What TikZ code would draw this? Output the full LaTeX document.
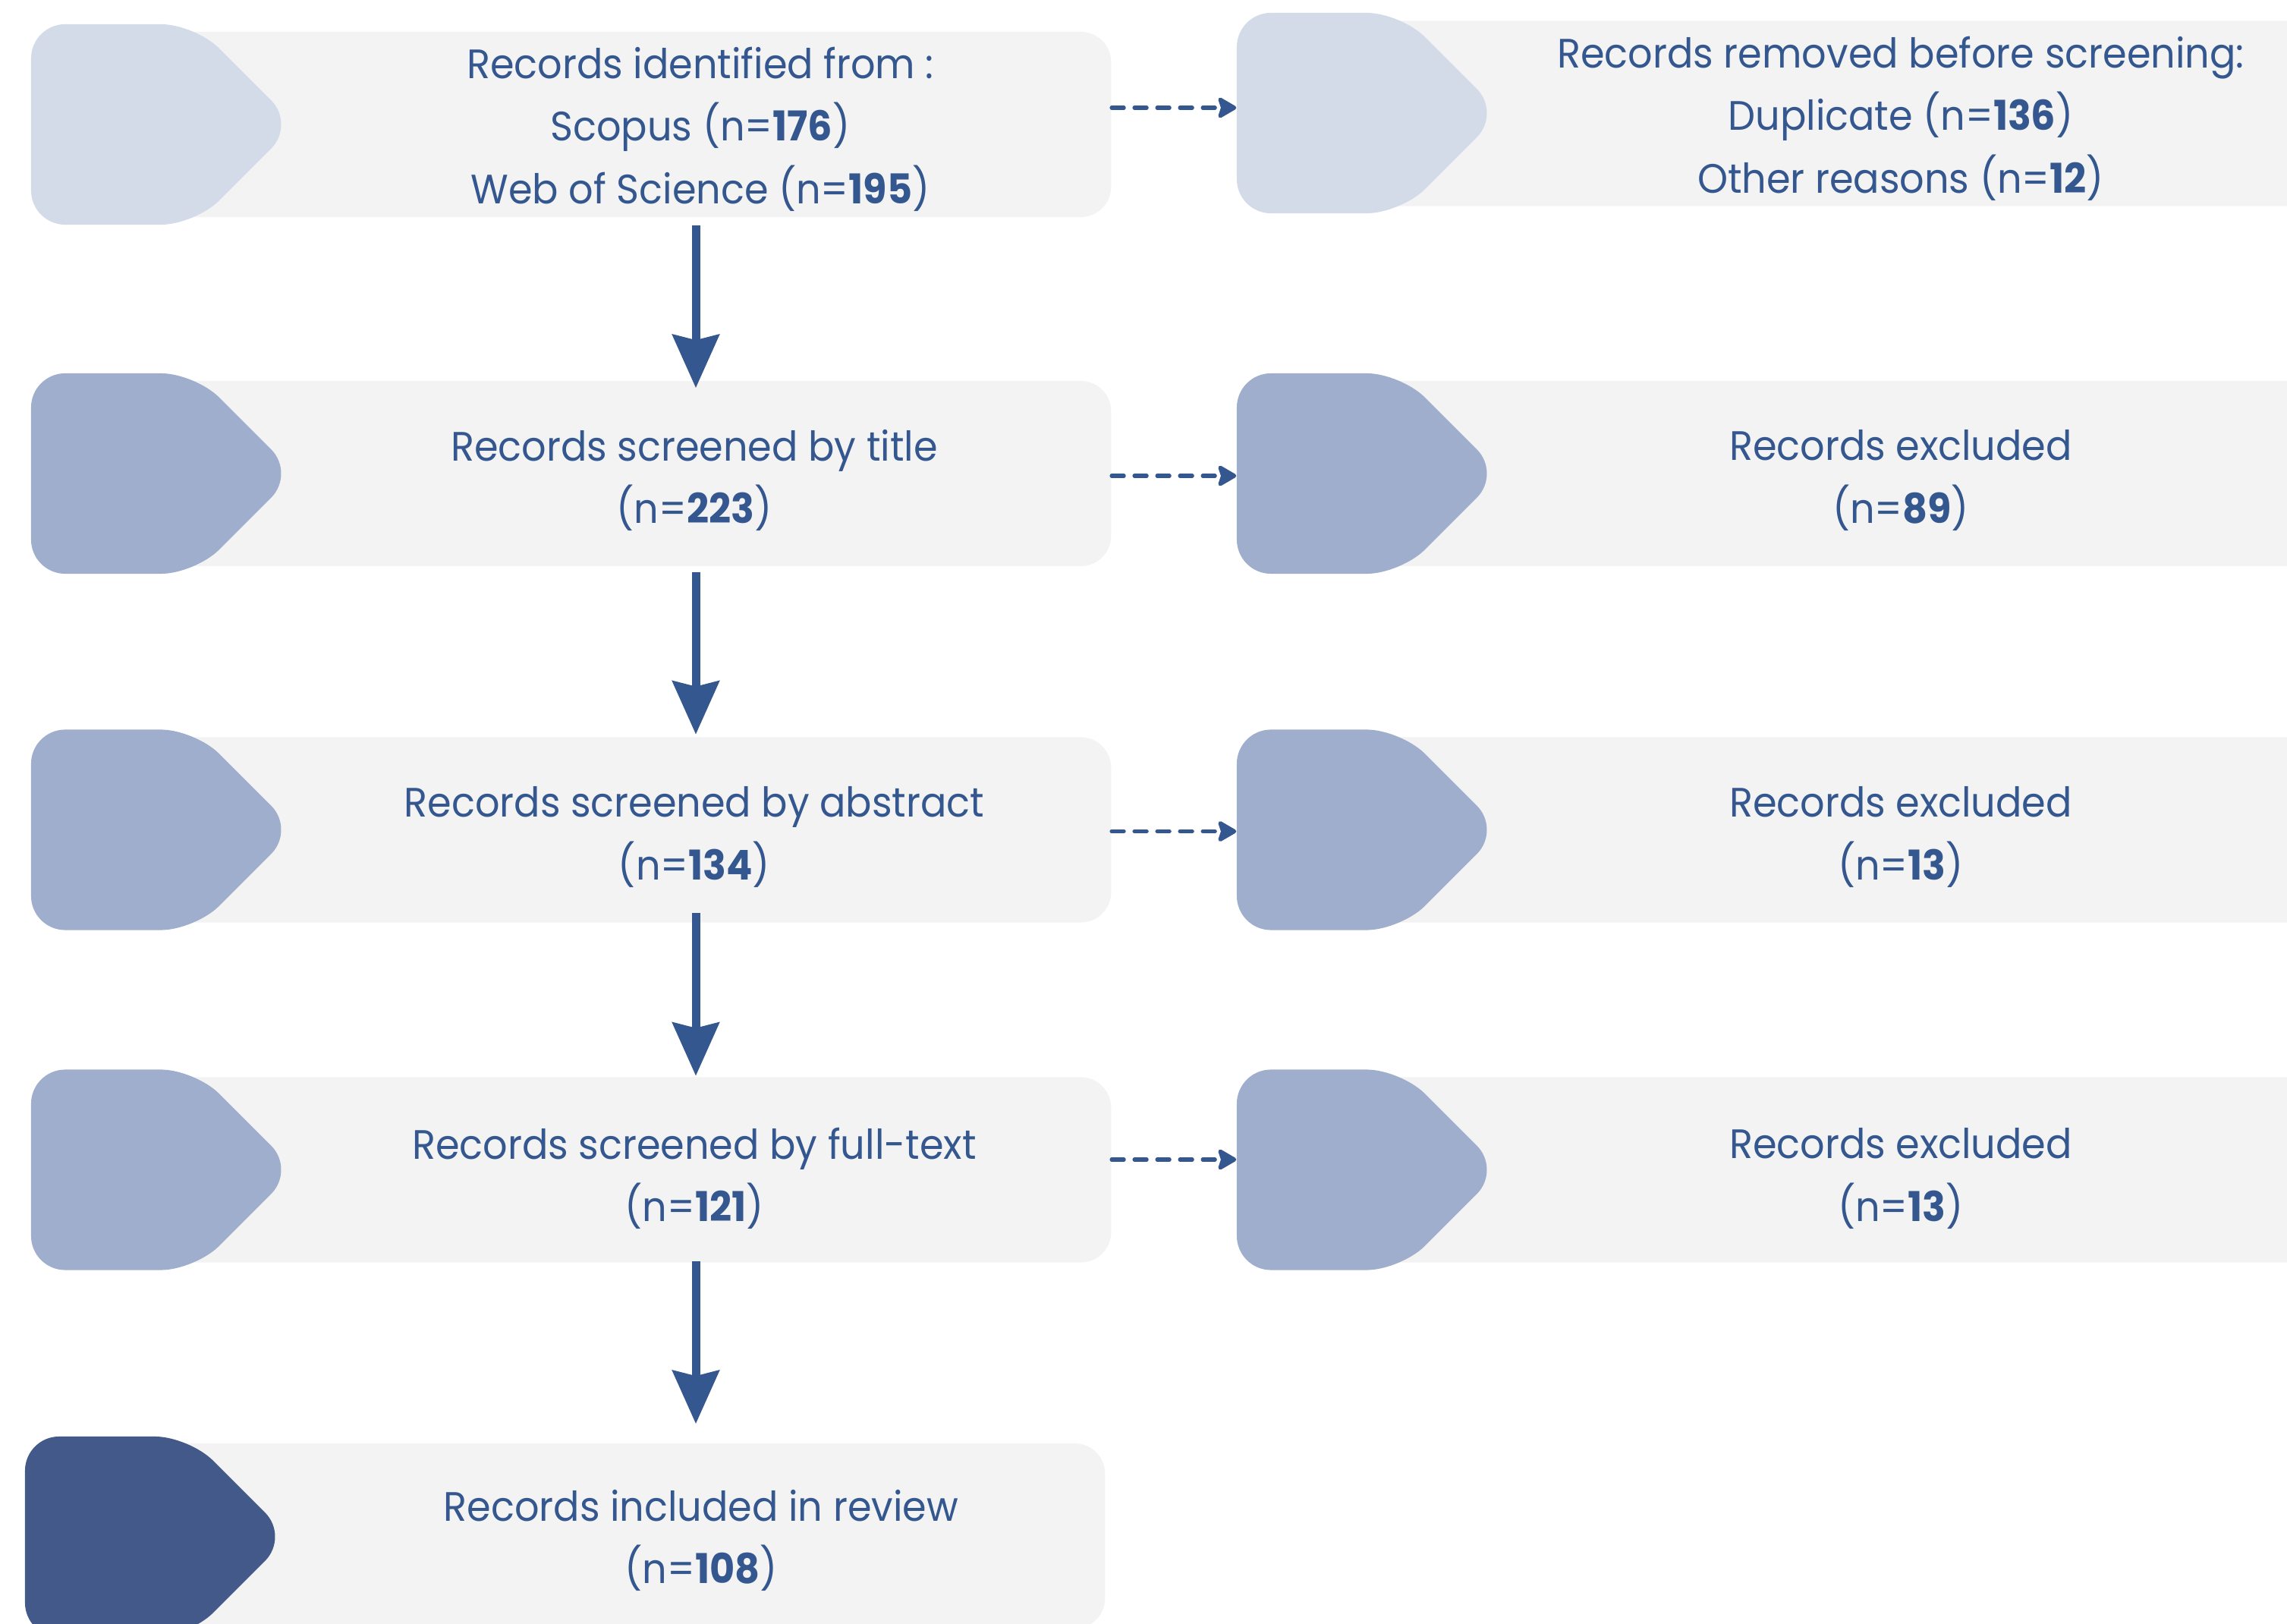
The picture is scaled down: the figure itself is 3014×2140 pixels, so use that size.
\documentclass[tikz,border=0pt]{standalone}
\usepackage{fontspec}
\setmainfont{Poppins}[FakeStretch=0.94]
\usetikzlibrary{arrows.meta,shapes.symbols}

\definecolor{inkblue}{HTML}{34578F}
\definecolor{panelgray}{HTML}{F3F3F3}
\definecolor{taglight}{HTML}{D3DAE8}
\definecolor{tagmid}{HTML}{9EAECC}
\definecolor{tagdark}{HTML}{43598A}

\tikzset{
  panel/.style={fill=panelgray, rounded corners=0.4cm, minimum height=2.44cm, inner sep=0pt},
  tag/.style={signal, signal to=east, signal pointer angle=90, rounded corners=0.45cm,
    minimum width=3.48cm, minimum height=2.64cm, inner sep=0pt},
  rectext/.style={text=inkblue, align=center, font=\fontsize{15.4}{23.5}\selectfont},
  flow/.style={draw=inkblue, line width=0.11cm, -{Stealth[length=0.7cm, width=0.61cm, inset=0.07cm]}},
  sideflow/.style={draw=inkblue, line width=0.053cm, line cap=round, dash pattern=on 0.16cm off 0.14cm,
    -{Stealth[length=0.28cm, width=0.32cm, inset=0.05cm, round]}}
}

\begin{document}
\begin{tikzpicture}[x=0.01cm, y=-0.01cm]
  \useasboundingbox (0,0) rectangle (3014,2140);
  \coordinate (spine) at (917,0);

  % grey panels, left column
  \node[panel, minimum width=12.64cm] (b1) at (832,164) {};
  \foreach \n/\y in {2/624, 3/1093.5, 4/1541.5}
    \node[panel, minimum width=12.64cm] (b\n) at (832,\y) {};
  \node[panel, minimum width=12.64cm] (b5) at (824,2024) {};
  % grey panels, right column
  \node[panel, minimum width=14cm] (r1) at (2500,149.5) {};
  \foreach \n/\y in {2/624, 3/1093.5, 4/1541.5}
    \node[panel, minimum width=14cm] (r\n) at (2500,\y) {};

  % tags
  \node[tag, fill=taglight] (lt1) at (149,164) {};
  \foreach \n/\y in {2/624, 3/1093.5, 4/1541.5}
    \node[tag, fill=tagmid] (lt\n) at (149,\y) {};
  \node[tag, fill=tagdark] (lt5) at (141,2025) {};
  \node[tag, fill=taglight] (rt1) at (1738,149) {};
  \foreach \n/\y in {2/624, 3/1093.5, 4/1541.5}
    \node[tag, fill=tagmid] (rt\n) at (1738,\y) {};

  % texts
  \node[rectext] (t1) at (923,170) {Records identified from :\\Scopus (n=\textbf{176})\\Web of Science (n=\textbf{195})};
  \node[rectext] (t2) at (915,633) {Records screened by title\\(n=\textbf{223})};
  \node[rectext] (t3) at (915,1103) {Records screened by abstract\\(n=\textbf{134})};
  \node[rectext] (t4) at (915,1553) {Records screened by full-text\\(n=\textbf{121})};
  \node[rectext] (t5) at (924,2030) {Records included in review\\(n=\textbf{108})};
  \node[rectext] (s1) at (2505,156) {Records removed before screening:\\Duplicate (n=\textbf{136})\\Other reasons (n=\textbf{12})};
  \node[rectext] (s2) at (2505,633) {Records excluded\\(n=\textbf{89})};
  \node[rectext] (s3) at (2505,1103) {Records excluded\\(n=\textbf{13})};
  \node[rectext] (s4) at (2505,1553) {Records excluded\\(n=\textbf{13})};

  % main flow
  \foreach \a/\b/\s/\e in {1/2/-0.1/-0.1, 2/3/-0.07/0.03, 3/4/0.13/0.01, 4/5/0.02/0.25}
    \draw[flow] ([yshift=\s cm]b\a.south -| spine) -- ([yshift=\e cm]b\b.north -| spine);

  % side flows
  \draw[sideflow] ([yshift=0.22cm]b1.east) -- ([yshift=0.22cm]b1.east -| rt1.west);
  \draw[sideflow] ([yshift=-0.03cm]b2.east) -- ([yshift=-0.03cm]b2.east -| rt2.west);
  \draw[sideflow] ([yshift=-0.02cm]b3.east) -- ([yshift=-0.02cm]b3.east -| rt3.west);
  \draw[sideflow] ([yshift=0.135cm]b4.east) -- ([yshift=0.135cm]b4.east -| rt4.west);
\end{tikzpicture}
\end{document}
